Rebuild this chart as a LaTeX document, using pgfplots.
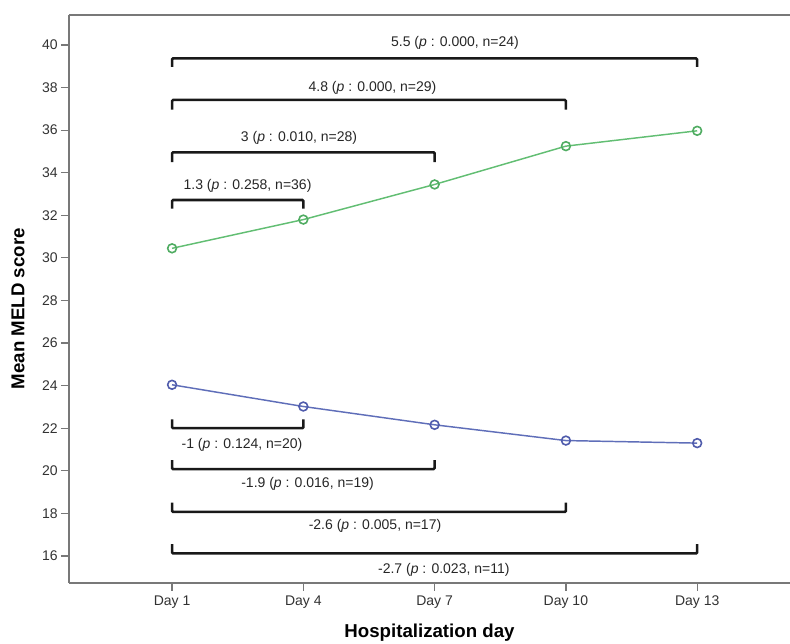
\documentclass[border=0pt]{standalone}
\usepackage{pgfplots}
\pgfplotsset{compat=1.18}
\usepackage{fontspec}
\setmainfont{Liberation Sans}
\usetikzlibrary{calc}

\definecolor{grn}{RGB}{98,190,115}
\definecolor{grnd}{RGB}{80,172,98}
\definecolor{blu}{RGB}{95,110,185}
\definecolor{blud}{RGB}{80,92,172}
\definecolor{axgray}{RGB}{120,120,120}
\definecolor{txt}{RGB}{50,50,50}

\begin{document}
\begin{tikzpicture}
\begin{axis}[
  scale only axis,
  width=540.75pt, height=426pt,
  xmin=-0.785, xmax=4.707,
  ymin=14.73, ymax=41.41,
  axis lines=left,
  axis line style={-, axgray, line width=1.1pt},
  tick style={axgray, line width=0.9pt},
  tick align=outside,
  major tick length=6pt,
  xtick={0,1,2,3,4},
  xticklabels={Day 1,Day 4,Day 7,Day 10,Day 13},
  ytick={16,18,...,40},
  /pgf/number format/assume math mode=true,
  ticklabel style={font=\fontsize{10.5}{12}\selectfont, text=txt},
  yticklabel style={xshift=1pt},
  xlabel={Hospitalization day},
  ylabel={Mean MELD score},
  label style={font=\bfseries\fontsize{14}{16}\selectfont},
  x label style={at={(axis description cs:0.5,-0.088)}, anchor=center},
  y label style={at={(axis description cs:-0.0707,0.483)}, anchor=center},
  clip=false,
  brk/.style={black!90, line width=1.9pt, rounded corners=0.8pt, mark=none, solid},
]
\coordinate (sw) at (rel axis cs:0,0);
\coordinate (ne) at (rel axis cs:1,1);
\draw[axgray, line width=1.1pt] (rel axis cs:0,1) -- (rel axis cs:1,1);

% brackets
\addplot[brk] coordinates {(0,38.97) (0,39.37) (4,39.37) (4,38.97)};
\addplot[brk] coordinates {(0,36.97) (0,37.42) (3,37.42) (3,36.97)};
\addplot[brk] coordinates {(0,34.50) (0,34.96) (2,34.96) (2,34.50)};
\addplot[brk] coordinates {(0,32.32) (0,32.72) (1,32.72) (1,32.32)};
\addplot[brk] coordinates {(0,22.42) (0,22.00) (1,22.00) (1,22.42)};
\addplot[brk] coordinates {(0,20.50) (0,20.08) (2,20.08) (2,20.50)};
\addplot[brk] coordinates {(0,18.50) (0,18.07) (3,18.07) (3,18.50)};
\addplot[brk] coordinates {(0,16.55) (0,16.12) (4,16.12) (4,16.55)};

% series
\addplot[grn, line width=1.1pt, mark=o, mark size=3.3pt,
  mark options={draw=grnd, line width=1.2pt}]
  coordinates {(0,30.45) (1,31.80) (2,33.45) (3,35.25) (4,35.97)};
\addplot[blu, line width=1.1pt, mark=o, mark size=3.3pt,
  mark options={draw=blud, line width=1.2pt}]
  coordinates {(0,24.04) (1,23.02) (2,22.16) (3,21.42) (4,21.30)};

% annotations
\tikzset{ann/.style={font=\fontsize{10.5}{12}\selectfont, text=black!85, inner sep=0pt}}
\node[ann] at (axis cs:2.155,40.08) {5.5 (\textit{p} : 0.000, n=24)};
\node[ann] at (axis cs:1.527,37.97) {4.8 (\textit{p} : 0.000, n=29)};
\node[ann] at (axis cs:0.967,35.62) {3 (\textit{p} : 0.010, n=28)};
\node[ann] at (axis cs:0.575,33.40) {1.3 (\textit{p} : 0.258, n=36)};
\node[ann] at (axis cs:0.533,21.22) {-1 (\textit{p} : 0.124, n=20)};
\node[ann] at (axis cs:1.032,19.40) {-1.9 (\textit{p} : 0.016, n=19)};
\node[ann] at (axis cs:1.546,17.39) {-2.6 (\textit{p} : 0.005, n=17)};
\node[ann] at (axis cs:2.070,15.35) {-2.7 (\textit{p} : 0.023, n=11)};
\end{axis}
\pgfresetboundingbox
\useasboundingbox ($(sw)+(-51.75pt,-45.75pt)$) rectangle ($(ne)+(0pt,11.25pt)$);
\end{tikzpicture}
\end{document}
